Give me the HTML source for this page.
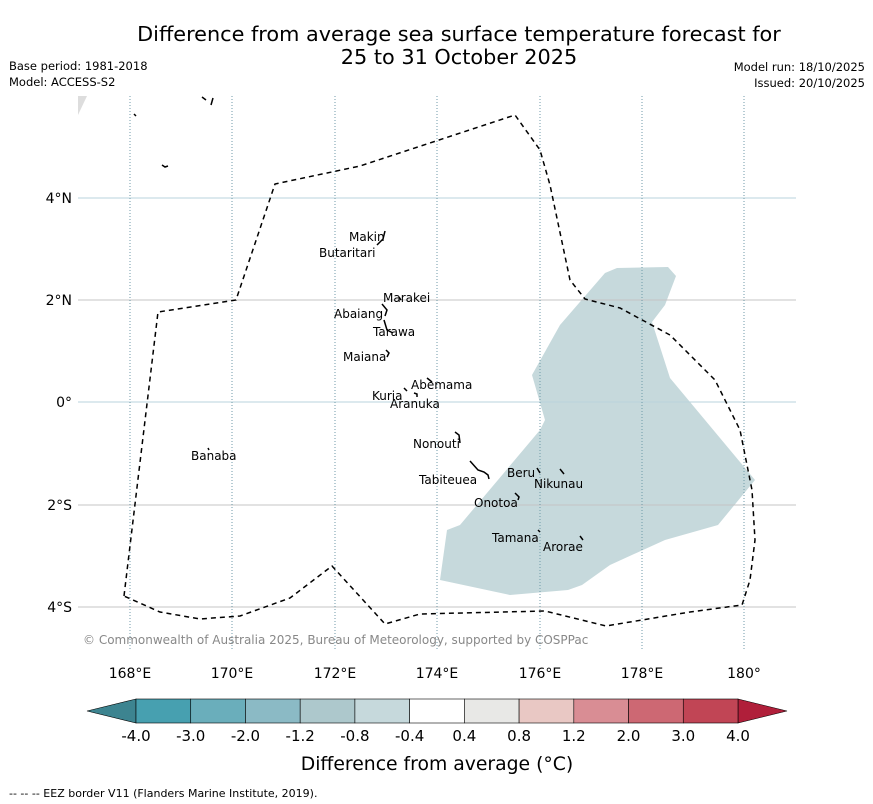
<!DOCTYPE html>
<html><head><meta charset="utf-8"><style>
body{margin:0;background:#fff;font-family:"Liberation Sans","DejaVu Sans",sans-serif}
svg{display:block}
text{font-family:"DejaVu Sans","Liberation Sans",sans-serif}
</style></head><body>
<svg width="873" height="804" viewBox="0 0 873 804">
<rect width="873" height="804" fill="#fff"/>
<text x="459" y="41" text-anchor="middle" font-size="20.8">Difference from average sea surface temperature forecast for</text>
<text x="459" y="64" text-anchor="middle" font-size="20.8">25 to 31 October 2025</text>
<text x="9" y="70" font-size="11.5">Base period: 1981-2018</text>
<text x="9" y="86" font-size="11.5">Model: ACCESS-S2</text>
<text x="865" y="71" font-size="11.5" text-anchor="end">Model run: 18/10/2025</text>
<text x="865" y="87" font-size="11.5" text-anchor="end">Issued: 20/10/2025</text>

<g>
<polygon fill="#c6d9dc" points="440,580 447,530 460,525 540,430 545,420 532,375 560,325 605,273 617,268 668,267 676,276 665,305 652,322 670,378 705,420 755,480 718,525 665,540 610,565 582,585 568,590 510,595"/>
<g>
<line x1="78" x2="796" y1="198" y2="198" stroke="#b9d3dc"/>
<line x1="78" x2="796" y1="300" y2="300" stroke="#c4c4c4"/>
<line x1="78" x2="796" y1="402" y2="402" stroke="#b9d3dc"/>
<line x1="78" x2="796" y1="505" y2="505" stroke="#c4c4c4"/>
<line x1="78" x2="796" y1="607" y2="607" stroke="#c4c4c4"/>
</g>
<g stroke="#6f9aa8" stroke-dasharray="1,2">
<line x1="130" x2="130" y1="96" y2="650"/><line x1="232" x2="232" y1="96" y2="650"/>
<line x1="335" x2="335" y1="96" y2="650"/><line x1="437" x2="437" y1="96" y2="650"/>
<line x1="540" x2="540" y1="96" y2="650"/><line x1="642" x2="642" y1="96" y2="650"/>
<line x1="744" x2="744" y1="96" y2="650"/>
</g>
<polygon fill="none" stroke="#000" stroke-width="1.5" stroke-dasharray="5,4" points="124,596 158,312 236,300 275,184 360,166 515,115 540,150 550,185 570,280 585,299 620,308 670,335 715,380 740,430 752,490 755,540 750,580 742,605 690,612 606,626 545,611 420,614 385,624 332,566 290,598 240,616 200,619 160,612"/>
<polygon points="78,96 87,96 78,115" fill="#ddd"/>
<g stroke="#000" stroke-width="1.5" fill="none">
<path d="M385,231 l-2,8 -6,6"/><path d="M399,297 l2,3"/><path d="M382,304 l5,6 -2,6"/><path d="M384,320 l3,10 6,3"/>
<path d="M386,350 l3,3 -2,4"/><path d="M427,378 l5,4"/><path d="M404,388 l3,3 M414,393 l3,1 0,3"/>
<path d="M455,432 l4,3 1,8"/><path d="M470,461 l8,9 6,2 4,3 1,4"/><path d="M537,468 l3,5"/><path d="M560,469 l4,5"/>
<path d="M515,493 l4,4 -1,3"/><path d="M538,530 l2,2"/><path d="M580,536 l3,4"/><path d="M208,448 l1,2"/>
<path d="M134,114 l2,2 M202,97 l4,3 M213,98 l-2,7 M162,165 l3,2 3,-1"/>
</g>
<g font-size="12">
<text x="349" y="241">Makin</text><text x="319" y="257">Butaritari</text>
<text x="383" y="302">Marakei</text><text x="334" y="318">Abaiang</text><text x="373" y="336">Tarawa</text>
<text x="343" y="361">Maiana</text><text x="411" y="389">Abemama</text><text x="372" y="400">Kuria</text>
<text x="390" y="408">Aranuka</text><text x="413" y="448">Nonouti</text><text x="191" y="460">Banaba</text>
<text x="419" y="484">Tabiteuea</text><text x="507" y="477">Beru</text><text x="534" y="488">Nikunau</text>
<text x="474" y="507">Onotoa</text><text x="492" y="542">Tamana</text><text x="543" y="551">Arorae</text>
</g>
<text x="83" y="644" font-size="12" fill="#888">© Commonwealth of Australia 2025, Bureau of Meteorology, supported by COSPPac</text>
</g>
<g font-size="14" text-anchor="end">
<text x="72" y="203">4°N</text><text x="72" y="305">2°N</text><text x="72" y="407">0°</text>
<text x="72" y="510">2°S</text><text x="72" y="612">4°S</text>
</g>
<g font-size="14" text-anchor="middle">
<text x="130" y="678">168°E</text><text x="232" y="678">170°E</text><text x="335" y="678">172°E</text>
<text x="437" y="678">174°E</text><text x="540" y="678">176°E</text><text x="642" y="678">178°E</text><text x="744" y="678">180°</text>
</g>
<g id="cbar"></g>
<text x="437" y="770" font-size="18.8" text-anchor="middle">Difference from average (°C)</text>
<text x="9" y="797" font-size="11">--  --  -- EEZ border V11 (Flanders Marine Institute, 2019).</text>
</svg>
<script>
const cbarColors=["#47a0b0","#6aaebb","#8bbac5","#adc8cc","#c6d9dc","#ffffff","#e8e8e6","#e9c8c4","#d98d94","#cd6873","#c14555"];
const cbarTicks=["-4.0","-3.0","-2.0","-1.2","-0.8","-0.4","0.4","0.8","1.2","2.0","3.0","4.0"];
const g=document.getElementById('cbar');const ns="http://www.w3.org/2000/svg";
const x0=136,x1=738,y0=699,h=24,w=(x1-x0)/cbarColors.length;
let a=document.createElementNS(ns,'polygon');a.setAttribute('points',`${x0},${y0} 87,${y0+h/2} ${x0},${y0+h}`);a.setAttribute('fill','#3d8490');a.setAttribute('stroke','#000');a.setAttribute('stroke-width','0.6');


g.appendChild(a);
let b=document.createElementNS(ns,'polygon');b.setAttribute('points',`${x1},${y0} 787,${y0+h/2} ${x1},${y0+h}`);b.setAttribute('fill','#b01f3a');b.setAttribute('stroke','#000');b.setAttribute('stroke-width','0.6');


g.appendChild(b);
cbarColors.forEach((c,i)=>{const r=document.createElementNS(ns,'rect');r.setAttribute('x',x0+i*w);r.setAttribute('y',y0);r.setAttribute('width',w);r.setAttribute('height',h);r.setAttribute('fill',c);r.setAttribute('stroke','#000');r.setAttribute('stroke-width','0.6');


g.appendChild(r);});
cbarTicks.forEach((t,i)=>{const e=document.createElementNS(ns,'text');e.setAttribute('x',x0+i*w);e.setAttribute('y',741);e.setAttribute('text-anchor','middle');e.setAttribute('font-size','15');e.textContent=t;


g.appendChild(e);});
</script>
</body></html>
